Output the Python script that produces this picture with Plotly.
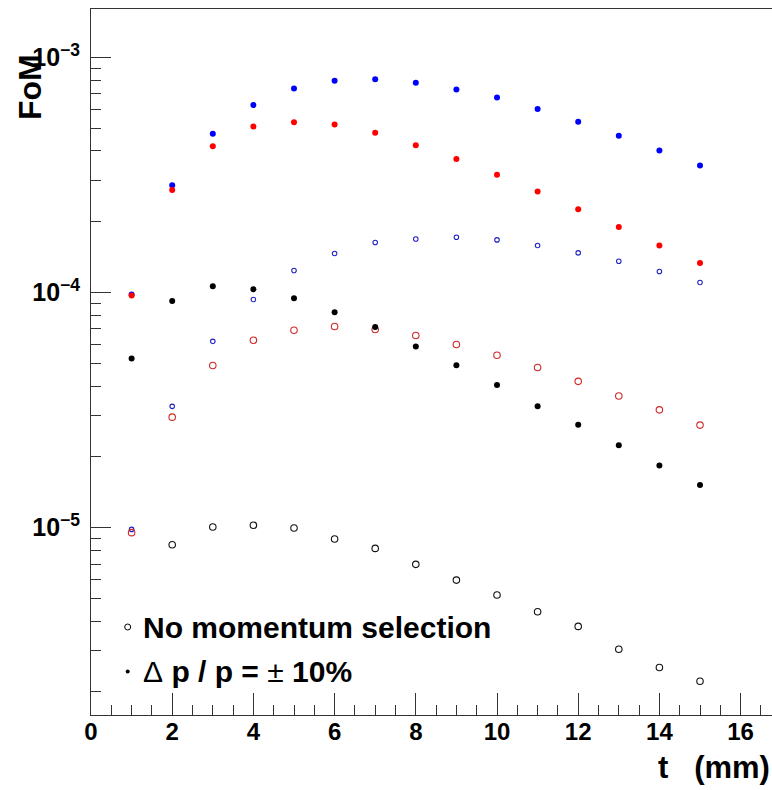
import plotly.graph_objects as go

# ---------------- data ----------------
t_mm = [1, 2, 3, 4, 5, 6, 7, 8, 9, 10, 11, 12, 13, 14, 15]

fom_blue_sel = [9.81e-5, 2.86e-4, 4.73e-4, 6.27e-4, 7.38e-4, 7.95e-4, 8.08e-4, 7.80e-4,
                7.31e-4, 6.76e-4, 6.04e-4, 5.32e-4, 4.64e-4, 4.02e-4, 3.47e-4]
fom_red_sel = [9.71e-5, 2.73e-4, 4.19e-4, 5.08e-4, 5.30e-4, 5.19e-4, 4.78e-4, 4.23e-4,
               3.70e-4, 3.17e-4, 2.69e-4, 2.26e-4, 1.90e-4, 1.585e-4, 1.337e-4]
fom_black_sel = [5.24e-5, 9.21e-5, 1.064e-4, 1.033e-4, 9.46e-5, 8.24e-5, 7.14e-5, 5.89e-5,
                 4.90e-5, 4.04e-5, 3.28e-5, 2.74e-5, 2.24e-5, 1.836e-5, 1.518e-5]

fom_blue_nosel = [9.83e-6, 3.28e-5, 6.20e-5, 9.34e-5, 1.241e-4, 1.466e-4, 1.633e-4, 1.69e-4,
                  1.719e-4, 1.674e-4, 1.585e-4, 1.474e-4, 1.359e-4, 1.229e-4, 1.103e-4]
fom_red_nosel = [9.52e-6, 2.95e-5, 4.89e-5, 6.27e-5, 6.91e-5, 7.17e-5, 6.96e-5, 6.56e-5,
                 6.01e-5, 5.41e-5, 4.80e-5, 4.19e-5, 3.63e-5, 3.17e-5, 2.73e-5]
t_mm_black_nosel = [2, 3, 4, 5, 6, 7, 8, 9, 10, 11, 12, 13, 14, 15]
fom_black_nosel = [8.46e-6, 1.006e-5, 1.023e-5, 9.96e-6, 8.94e-6, 8.16e-6, 6.98e-6,
                   5.98e-6, 5.17e-6, 4.39e-6, 3.80e-6, 3.04e-6, 2.54e-6, 2.22e-6]

y_major = [1e-5, 1e-4, 1e-3]
y_major_text = ["10<sup>\u22125</sup>", "10<sup>\u22124</sup>", "10<sup>\u22123</sup>"]
y_minor = [m * 10.0 ** e for e in (-6, -5, -4) for m in range(2, 10)]
x_ticks = [0, 2, 4, 6, 8, 10, 12, 14, 16]

legend_labels = ["No momentum selection",
                 "<span style='font-weight:normal'>\u0394</span> p / p = "
                 "<span style='font-weight:normal'>\u00b1</span> 10%"]

# ---------------- figure ----------------
W, H = 772, 790
ML, MT, MB, MR = 91, 9, 75, 0
PW, PH = W - ML - MR, H - MT - MB
FONT = "Liberation Sans, Arial, Helvetica, sans-serif"


def px2paper(px, py):
    return (px - ML) / PW, (H - MB - py) / PH


fig = go.Figure()

open_line = 1.1
fig.add_trace(go.Scatter(x=t_mm, y=fom_blue_nosel, mode="markers",
                         marker=dict(symbol="circle-open", size=4.5, color="#2020c0",
                                     line=dict(width=open_line, color="#2020c0"))))
fig.add_trace(go.Scatter(x=t_mm, y=fom_red_nosel, mode="markers",
                         marker=dict(symbol="circle-open", size=6.5, color="#d02828",
                                     line=dict(width=open_line, color="#d02828"))))
fig.add_trace(go.Scatter(x=t_mm_black_nosel, y=fom_black_nosel, mode="markers",
                         marker=dict(symbol="circle-open", size=6.5, color="#111111",
                                     line=dict(width=open_line, color="#111111"))))
fig.add_trace(go.Scatter(x=t_mm, y=fom_blue_sel, mode="markers",
                         marker=dict(symbol="circle", size=6, color="#0000ff",
                                     line=dict(width=0))))
fig.add_trace(go.Scatter(x=t_mm, y=fom_red_sel, mode="markers",
                         marker=dict(symbol="circle", size=6, color="#ff0000",
                                     line=dict(width=0))))
fig.add_trace(go.Scatter(x=t_mm, y=fom_black_sel, mode="markers",
                         marker=dict(symbol="circle", size=6, color="#000000",
                                     line=dict(width=0))))

fig.update_layout(
    width=W, height=H,
    margin=dict(l=ML, r=MR, t=MT, b=MB, pad=0),
    paper_bgcolor="white", plot_bgcolor="white",
    showlegend=False,
    font=dict(family=FONT, color="black"),
    xaxis=dict(
        range=[0, PW / 40.6], showgrid=False, zeroline=False,
        showline=True, linecolor="#333333", linewidth=1, mirror=True,
        tickmode="array", tickvals=x_ticks, ticktext=[str(v) for v in x_ticks],
        ticks="inside", ticklen=22, tickwidth=1, tickcolor="#333333",
        tickfont=dict(family=FONT, size=24, color="black", weight="bold"),
        ticklabelstandoff=-5,
        minor=dict(dtick=0.5, tick0=0, ticks="inside", ticklen=10, tickwidth=1,
                   tickcolor="#333333", showgrid=False),
    ),
    yaxis=dict(
        type="log", range=[-5.797, -2.794], showgrid=False, zeroline=False,
        showline=True, linecolor="#333333", linewidth=1, mirror=False,
        tickmode="array", tickvals=y_major, ticktext=y_major_text,
        ticks="inside", ticklen=20, tickwidth=1, tickcolor="#333333",
        tickfont=dict(family=FONT, size=25, color="black", weight="bold"),
        ticklabelstandoff=5,
        minor=dict(tickmode="array", tickvals=y_minor, ticks="inside", ticklen=10,
                   tickwidth=1, tickcolor="#333333", showgrid=False),
    ),
)

# axis titles
fig.add_annotation(xref="paper", yref="paper", x=px2paper(30, 0)[0], y=px2paper(0, 87)[1],
                   text="FoM", showarrow=False, textangle=-90,
                   xanchor="center", yanchor="middle",
                   font=dict(family=FONT, size=32, color="black", weight="bold"))
fig.add_annotation(xref="paper", yref="paper", x=px2paper(772, 0)[0], y=px2paper(0, 767)[1],
                   text="t   (mm)", showarrow=False,
                   xanchor="right", yanchor="middle",
                   font=dict(family=FONT, size=31, color="black", weight="bold"))

# legend
leg_rows = [(627, "open"), (671.5, "filled")]
for (py, kind), label in zip(leg_rows, legend_labels):
    mx, my = px2paper(127.7, py)
    if kind == "open":
        fig.add_shape(type="circle", xref="paper", yref="paper",
                      xsizemode="pixel", ysizemode="pixel", xanchor=mx, yanchor=my,
                      x0=-3, x1=3, y0=-3, y1=3, line=dict(color="black", width=1),
                      fillcolor="rgba(0,0,0,0)")
    else:
        fig.add_shape(type="circle", xref="paper", yref="paper",
                      xsizemode="pixel", ysizemode="pixel", xanchor=mx, yanchor=my,
                      x0=-2, x1=2, y0=-2, y1=2, line=dict(color="black", width=0),
                      fillcolor="black")
    tx, ty = px2paper(141, py)
    fig.add_annotation(xref="paper", yref="paper", x=tx, y=ty, text=label,
                       showarrow=False, xanchor="left", yanchor="middle",
                       font=dict(family=FONT, size=30, color="black", weight="bold"))

fig.write_html("out.html")
